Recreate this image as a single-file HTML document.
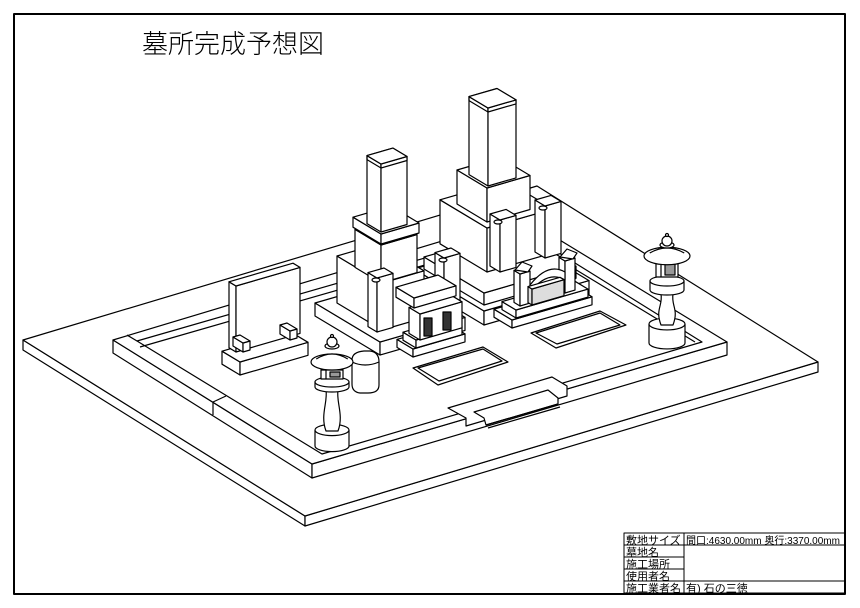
<!DOCTYPE html>
<html><head><meta charset="utf-8">
<style>
html,body{margin:0;padding:0;background:#fff;}
svg{display:block;}
text{font-family:"Liberation Sans","Noto Sans CJK JP",sans-serif;}
</style></head>
<body>
<svg id="s" width="860" height="608" viewBox="0 0 860 608" xmlns="http://www.w3.org/2000/svg" stroke="#000" stroke-width="1.2" fill="#fff" stroke-linejoin="round">
<rect x="14" y="14" width="831" height="580" fill="#fff" stroke-width="2"/>
<text x="142" y="53" font-size="26" fill="#000" stroke="none" style='font-family:"Noto Sans CJK JP",sans-serif;font-weight:300'>墓所完成予想図</text>

<polygon points="23,340 305,516 305,526 23,350"/>
<polygon points="305,516 818,362 818,372 305,526"/>
<polygon points="23,340 537,186 818,362 305,516"/>

<polygon points="113,340 312,464 312,478 113,353"/>
<polygon points="312,464 727,342 727,355 312,478"/>
<polygon points="113,340 522,217 727,342 312,464"/>
<polygon points="137,341 522,230 702,342 322,454"/>
<polyline points="140,347 522,237 695,342" fill="none"/>
<line x1="127" y1="335" x2="137" y2="341"/>
<line x1="213" y1="402" x2="213" y2="415"/>
<line x1="213" y1="402" x2="226" y2="396"/>

<g id="objs"></g>

<polygon points="413,368 483,347 508,362 438,385"/>
<polygon points="418,368 483,349 502,361 439,381" fill="none"/>
<polygon points="531,333 600,311 626,325 556,348"/>
<polygon points="536,333 600,313 620,325 557,344" fill="none"/>

<polygon points="448,408 552,377 567,386 567,396 466,426 466,418" stroke="#000"/>
<polygon points="474,412 548,390 558,398 558,404 486,425 484,418"/>
<line x1="486" y1="425" x2="558" y2="404"/>
<line x1="488" y1="428" x2="560" y2="407"/>

<g stroke-width="1" fill="none">
<rect x="624" y="533" width="221" height="60"/>
<line x1="624" y1="545" x2="845" y2="545"/>
<line x1="624" y1="557" x2="684" y2="557"/>
<line x1="624" y1="569" x2="684" y2="569"/>
<line x1="624" y1="581" x2="845" y2="581"/>
<line x1="684" y1="533" x2="684" y2="593"/>
</g>
<g font-size="11" fill="#000" stroke="none">
<text x="626" y="544">敷地サイズ</text>
<text x="686" y="544" font-size="10">間口:4630.00mm 奥行:3370.00mm</text>
<text x="626" y="556">墓地名</text>
<text x="626" y="568">施工場所</text>
<text x="626" y="580">使用者名</text>
<text x="626" y="592">施工業者名</text>
<text x="686" y="592">有) 石の三徳</text>
</g>
</svg>
<script>
var g=document.getElementById('objs');var NS='http://www.w3.org/2000/svg';
function poly(pts,fill){var p=document.createElementNS(NS,'polygon');p.setAttribute('points',pts.map(function(q){return q[0].toFixed(1)+','+q[1].toFixed(1)}).join(' '));if(fill)p.setAttribute('fill',fill);g.appendChild(p);return p;}
function el(n,a){var e=document.createElementNS(NS,n);for(var k in a)e.setAttribute(k,a[k]);g.appendChild(e);return e;}
var A=[1,-0.29],B=[-1,-0.6];
function box(px,py,wa,wb,h,fill){
 var P=[px,py],Pa=[px+wa*A[0],py+wa*A[1]],Pb=[px+wb*B[0],py+wb*B[1]];
 var Pab=[Pa[0]+wb*B[0],Pa[1]+wb*B[1]];
 function up(q){return [q[0],q[1]-h];}
 poly([P,Pb,up(Pb),up(P)],fill);
 poly([P,Pa,up(Pa),up(P)],fill);
 poly([up(P),up(Pa),up(Pab),up(Pb)]);
}
function pillar(px,py,wa,wb,h){
 box(px,py,wa,wb,h);
 var t=[px,py-h];var c=4;
 poly([[t[0],t[1]+c],[t[0]+wa*A[0],t[1]+wa*A[1]+c],[t[0]+wa*A[0],t[1]+wa*A[1]],[t[0],t[1]]]);
 poly([[t[0],t[1]],[t[0]+wa*A[0],t[1]+wa*A[1]],[t[0]+wa*A[0]+wb*B[0],t[1]+wa*A[1]+wb*B[1]],[t[0]+wb*B[0],t[1]+wb*B[1]]]);
 el('line',{x1:t[0]+wb*B[0],y1:t[1]+wb*B[1],x2:t[0]+wb*B[0],y2:t[1]+wb*B[1]+c});
 el('line',{x1:t[0]+wb*B[0],y1:t[1]+wb*B[1]+c,x2:t[0],y2:t[1]+c});
}
box(484,325,105,70,14);
box(484,305,92,60,12);
box(487,272,66,47,44);
box(487,222,43,30,34);
pillar(488,186,28,19,78);
box(500,272,16,10,52);box(545,258,16,10,52);
el('ellipse',{cx:498,cy:222,rx:4,ry:2});el('ellipse',{cx:543,cy:208,rx:4,ry:2});
box(512,328,80,18,8);box(516,318,72,14,8);
box(520,306,10,6,32,'#fff');box(565,293,10,6,32);
poly([[515,270],[522,262],[532,266],[528,272]]);poly([[560,257],[567,249],[577,253],[573,259]]);
el('path',{d:'M530,285 Q548,262 565,272 L565,280 Q548,270 530,292 Z'});
box(532,305,32,4,16,'#ddd');
box(380,355,85,65,13);
box(382,330,42,45,47);
box(381,283,36,26,38);
box(381,244,38,28,10);
pillar(381,232,26,14,68);
box(377,332,16,9,54);box(444,312,16,9,54);
el('ellipse',{cx:376,cy:280,rx:4,ry:2});el('ellipse',{cx:443,cy:260,rx:4,ry:2});
box(413,357,52,16,8);box(416,348,46,13,8);
box(420,340,42,11,26,'#fff');
el('rect',{x:424,y:318,width:8,height:18,fill:'#333'});el('rect',{x:443,y:312,width:8,height:18,fill:'#333'});
box(414,308,42,18,10);
box(240,375,68,18,13);
box(236,352,64,7,66);
box(243,352,7,10,9);box(290,340,7,10,9);
// rock (rounded cylinder)
el('path',{d:'M352,360 Q352,352 364,351 L370,351 Q379,352 379,362 L379,385 Q379,393 368,393 L360,393 Q352,392 352,384 Z'});
el('path',{d:'M352,362 Q365,368 379,362',fill:'none'});
function lantern(cx,kn,rc,rx,bx1,bx2,d1,d2,s2,b1,b2,brx){
 el('path',{d:'M'+(cx-brx)+','+b1+' L'+(cx-brx)+','+b2+' A'+brx+','+(brx*0.33)+' 0 0 0 '+(cx+brx)+','+b2+' L'+(cx+brx)+','+b1});
 el('ellipse',{cx:cx,cy:b1,rx:brx,ry:brx*0.33});
 el('path',{d:'M'+(cx-6)+','+(b1+1)+' C'+(cx-12)+','+(b1-15)+' '+(cx-4)+','+(s2+12)+' '+(cx-6)+','+s2+' L'+(cx+6)+','+s2+' C'+(cx+4)+','+(s2+12)+' '+(cx+12)+','+(b1-15)+' '+(cx+6)+','+(b1+1)+' Z'});
 el('path',{d:'M'+(cx-17)+','+d1+' L'+(cx-17)+','+d2+' A17,5 0 0 0 '+(cx+17)+','+d2+' L'+(cx+17)+','+d1});
 el('ellipse',{cx:cx,cy:d1,rx:17,ry:5});
 el('rect',{x:cx-11,y:bx1,width:22,height:bx2-bx1});
 el('rect',{x:cx-2,y:bx1+2,width:10,height:bx2-bx1-4,fill:'#999'});
 el('line',{x1:cx-6,y1:bx1,x2:cx-6,y2:bx2});
 el('ellipse',{cx:cx,cy:rc,rx:rx,ry:rx*0.38});
 el('path',{d:'M'+(cx-rx*0.75)+','+(rc-3)+' Q'+cx+','+(rc-13)+' '+(cx+rx*0.75)+','+(rc-3)});
 el('ellipse',{cx:cx,cy:kn+9,rx:7,ry:3});
 el('circle',{cx:cx,cy:kn+5,r:5});
 el('circle',{cx:cx,cy:kn-1,r:1.5});
}
lantern(332,337,362,21,370,379,382,387,390,430,446,17);
lantern(667,236,256,23,262,277,281,290,294,324,343,18);
</script>
</body></html>
